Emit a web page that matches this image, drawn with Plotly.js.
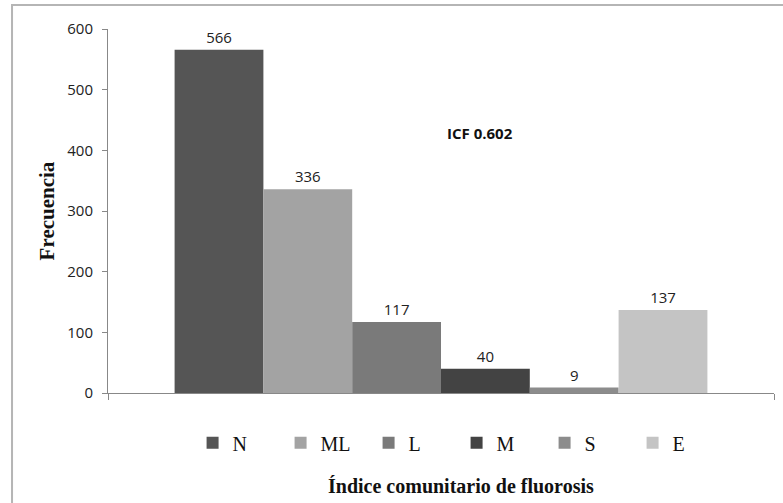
<!DOCTYPE html>
<html>
<head>
<meta charset="utf-8">
<script src="https://cdn.plot.ly/plotly-3.0.1.min.js"></script>
<style>html,body{margin:0;padding:0;background:#fff;} #chart{width:783px;height:503px;}</style>
</head>
<body>
<div id="chart"></div>
<script>
// Data
const category = ["Índice comunitario de fluorosis"];
const seriesNames = ["N", "ML", "L", "M", "S", "E"];
const seriesValues = [566, 336, 117, 40, 9, 137];
const seriesColors = ["#555555", "#a3a3a3", "#7a7a7a", "#434343", "#8c8c8c", "#c4c4c4"];
const yTicks = [0, 100, 200, 300, 400, 500, 600];
const icfLabel = "ICF 0.602";

const traces = seriesNames.map((name, i) => ({
  type: "bar",
  name: name,
  x: category,
  y: [seriesValues[i]],
  marker: { color: seriesColors[i], line: { width: 0 } },
  text: [String(seriesValues[i])],
  textposition: "outside",
  cliponaxis: false,
  textfont: { family: "Open Sans", size: 15, color: "#222" },
  hoverinfo: "name+y"
}));

const layout = {
  width: 783, height: 503,
  margin: { l: 108, r: 9, t: 29, b: 110, autoexpand: false },
  paper_bgcolor: "#fff", plot_bgcolor: "#fff",
  barmode: "group", bargap: 0.2, bargroupgap: 0,
  showlegend: true,
  legend: {
    orientation: "h", x: 0.127, xanchor: "left", y: -0.137, yanchor: "middle",
    font: { family: "Liberation Serif", size: 20, color: "#111" },
    entrywidth: 43, entrywidthmode: "pixels",
    itemwidth: 30, tracegroupgap: 0, bgcolor: "rgba(0,0,0,0)"
  },
  xaxis: {
    type: "category",
    showticklabels: false,
    ticks: "outside", tickson: "boundaries", ticklen: 6, tickcolor: "#888",
    showline: true, linecolor: "#888", linewidth: 1,
    showgrid: false, zeroline: false, fixedrange: true
  },
  yaxis: {
    range: [0, 600], tickvals: yTicks, ticktext: yTicks.map(String),
    ticks: "outside", ticklen: 5, tickcolor: "#888",
    showline: true, linecolor: "#888", linewidth: 1,
    showgrid: false, zeroline: false,
    tickfont: { family: "Open Sans", size: 15, color: "#222" },
    ticklabelstandoff: 6,
    title: { text: "Frecuencia", font: { family: "Liberation Serif", size: 21, color: "#111", weight: "bold" }, standoff: 6 }
  },
  annotations: [
    { text: "<b>" + icfLabel + "</b>", xref: "paper", yref: "paper", x: 0.5586, y: 0.714,
      xanchor: "center", yanchor: "middle",
      showarrow: false, font: { family: "Open Sans", size: 15, color: "#111" } },
    { text: "<b>Índice comunitario de fluorosis</b>", xref: "paper", yref: "paper", x: 0.530, y: -0.2555,
      xanchor: "center", yanchor: "middle",
      showarrow: false, font: { family: "Liberation Serif", size: 20, color: "#111" } }
  ],
  shapes: [
    { type: "rect", xref: "paper", yref: "paper", x0: -0.1441, x1: 1.2, y0: -0.6, y1: 1.0659,
      line: { color: "#b5b5b5", width: 2 }, fillcolor: "rgba(0,0,0,0)", layer: "below" }
  ]
};

Plotly.newPlot("chart", traces, layout, { displayModeBar: false, staticPlot: true });
</script>
</body>
</html>
